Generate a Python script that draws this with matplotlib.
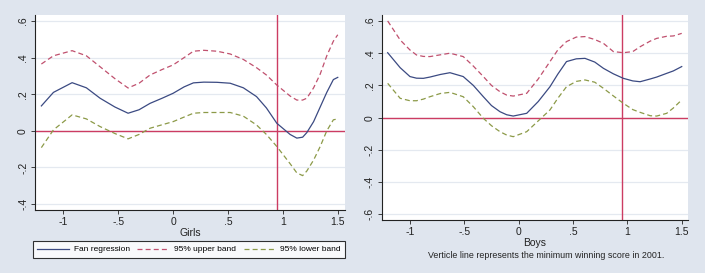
import matplotlib
matplotlib.use("Agg")
import matplotlib.pyplot as plt
from matplotlib.lines import Line2D

plt.rcParams['font.family'] = ['Liberation Sans Narrow', 'Liberation Sans', 'DejaVu Sans']

# Girls panel
g_x = [-1.2, -1.09, -0.92, -0.79, -0.665, -0.53, -0.41, -0.31, -0.21, -0.1, 0.0, 0.1, 0.185, 0.28, 0.4, 0.52, 0.64, 0.76, 0.85, 0.945, 1.066, 1.127, 1.18, 1.218, 1.28, 1.34, 1.4, 1.46, 1.5]
g_fit = [0.136, 0.21, 0.263, 0.235, 0.178, 0.13, 0.096, 0.115, 0.15, 0.178, 0.205, 0.24, 0.262, 0.266, 0.265, 0.26, 0.235, 0.187, 0.125, 0.041, -0.02, -0.04, -0.035, -0.01, 0.05, 0.13, 0.21, 0.28, 0.292]
g_up = [0.365, 0.41, 0.438, 0.41, 0.35, 0.285, 0.234, 0.26, 0.305, 0.335, 0.36, 0.4, 0.435, 0.44, 0.435, 0.42, 0.39, 0.345, 0.305, 0.25, 0.19, 0.168, 0.168, 0.178, 0.235, 0.31, 0.41, 0.49, 0.525]
g_lo = [-0.092, 0.005, 0.087, 0.065, 0.023, -0.015, -0.044, -0.02, 0.014, 0.033, 0.05, 0.075, 0.096, 0.1, 0.1, 0.1, 0.08, 0.032, -0.02, -0.086, -0.18, -0.23, -0.245, -0.22, -0.16, -0.086, 0.0, 0.06, 0.065]

# Boys panel
b_x = [-1.205, -1.09, -1.0, -0.94, -0.877, -0.816, -0.72, -0.632, -0.51, -0.417, -0.325, -0.25, -0.172, -0.11, -0.05, 0.074, 0.18, 0.288, 0.36, 0.44, 0.53, 0.61, 0.7, 0.78, 0.871, 0.963, 1.05, 1.117, 1.21, 1.27, 1.362, 1.423, 1.5]
b_fit = [0.403, 0.31, 0.255, 0.245, 0.244, 0.252, 0.268, 0.279, 0.255, 0.2, 0.13, 0.075, 0.037, 0.018, 0.01, 0.027, 0.1, 0.192, 0.27, 0.348, 0.365, 0.368, 0.345, 0.306, 0.272, 0.244, 0.228, 0.223, 0.24, 0.252, 0.275, 0.29, 0.317]
b_up = [0.6, 0.482, 0.42, 0.389, 0.38, 0.379, 0.39, 0.4, 0.379, 0.32, 0.255, 0.2, 0.161, 0.14, 0.134, 0.151, 0.24, 0.348, 0.42, 0.472, 0.5, 0.503, 0.485, 0.461, 0.41, 0.403, 0.41, 0.44, 0.475, 0.492, 0.505, 0.507, 0.523]
b_lo = [0.213, 0.12, 0.105, 0.105, 0.115, 0.13, 0.15, 0.157, 0.13, 0.068, -0.004, -0.05, -0.087, -0.108, -0.118, -0.087, -0.02, 0.048, 0.12, 0.192, 0.225, 0.234, 0.22, 0.182, 0.135, 0.089, 0.05, 0.033, 0.012, 0.01, 0.027, 0.06, 0.11]

x_ticks = [-1, -0.5, 0, 0.5, 1, 1.5]
x_labels = ["-1", "-.5", "0", ".5", "1", "1.5"]
g_yticks = [-0.4, -0.2, 0, 0.2, 0.4, 0.6]
g_ylabels = ["-.4", "-.2", "0", ".2", ".4", ".6"]
b_yticks = [-0.6, -0.4, -0.2, 0, 0.2, 0.4, 0.6]
b_ylabels = ["-.6", "-.4", "-.2", "0", ".2", ".4", ".6"]
cutoff = 0.95

bg = "#dfe5ee"
grid_c = "#e4e9f0"
navy = "#3b4a82"
red_d = "#c0506e"
olive = "#8c9a48"
redline = "#cc3c62"

fig = plt.figure(figsize=(7.05, 2.73), dpi=100, facecolor=bg)
W, H = 705.0, 273.0
ax1 = fig.add_axes([35 / W, 1 - 210 / H, 310 / W, 195 / H])
ax2 = fig.add_axes([381.7 / W, 1 - 220 / H, 306 / W, 205 / H])


def panel(ax, x, fit, up, lo, yticks, ylabels, xlabel, ylim, xlim):
    ax.set_facecolor("white")
    for y in yticks:
        ax.axhline(y, color=grid_c, lw=0.9, zorder=0)
    ax.plot(x, fit, color=navy, lw=0.9, zorder=3)
    ax.plot(x, up, color=red_d, lw=0.9, dashes=(4, 2.5), zorder=3)
    ax.plot(x, lo, color=olive, lw=0.9, dashes=(4, 2.5), zorder=3)
    ax.axhline(0, color=redline, lw=1.0, zorder=2)
    ax.axvline(cutoff, color=redline, lw=1.0, zorder=2)
    ax.set_xlim(xlim)
    ax.set_ylim(ylim)
    ax.set_xticks(x_ticks)
    ax.set_xticklabels(x_labels)
    ax.set_yticks(yticks)
    ax.set_yticklabels(ylabels, rotation=90, va="center")
    ax.tick_params(labelsize=7.5, length=3, width=0.6, pad=2, colors="#222222")
    for s in ["top", "right"]:
        ax.spines[s].set_visible(False)
    for s in ["left", "bottom"]:
        ax.spines[s].set_linewidth(0.8)
        ax.spines[s].set_color("#222222")
    ax.set_xlabel(xlabel, fontsize=7.5, labelpad=1, color="#222222")


panel(ax1, g_x, g_fit, g_up, g_lo, g_yticks, g_ylabels, "Girls", (-0.433, 0.633), (-1.258, 1.566))
panel(ax2, b_x, b_fit, b_up, b_lo, b_yticks, b_ylabels, "Boys", (-0.635, 0.637), (-1.26, 1.555))

handles = [Line2D([], [], color=navy, lw=0.9),
           Line2D([], [], color=red_d, lw=0.9, dashes=(4, 2.5)),
           Line2D([], [], color=olive, lw=0.9, dashes=(4, 2.5))]
leg = fig.legend(handles, ["Fan regression", "95% upper band", "95% lower band"],
                 loc="center", bbox_to_anchor=(189 / W, 1 - 249.5 / H), ncol=3,
                 fontsize=6, frameon=True, fancybox=False, handlelength=3.8,
                 columnspacing=0.9, handletextpad=0.6, borderpad=0.5,
                 borderaxespad=0)
leg.get_frame().set_edgecolor("black")
leg.get_frame().set_linewidth(0.8)

fig.text(546 / W, 1 - 256 / H, "Verticle line represents the minimum winning score in 2001.",
         fontsize=6.4, ha="center", va="center", color="#222222")

fig.savefig("out.png", dpi=100, facecolor=bg)
